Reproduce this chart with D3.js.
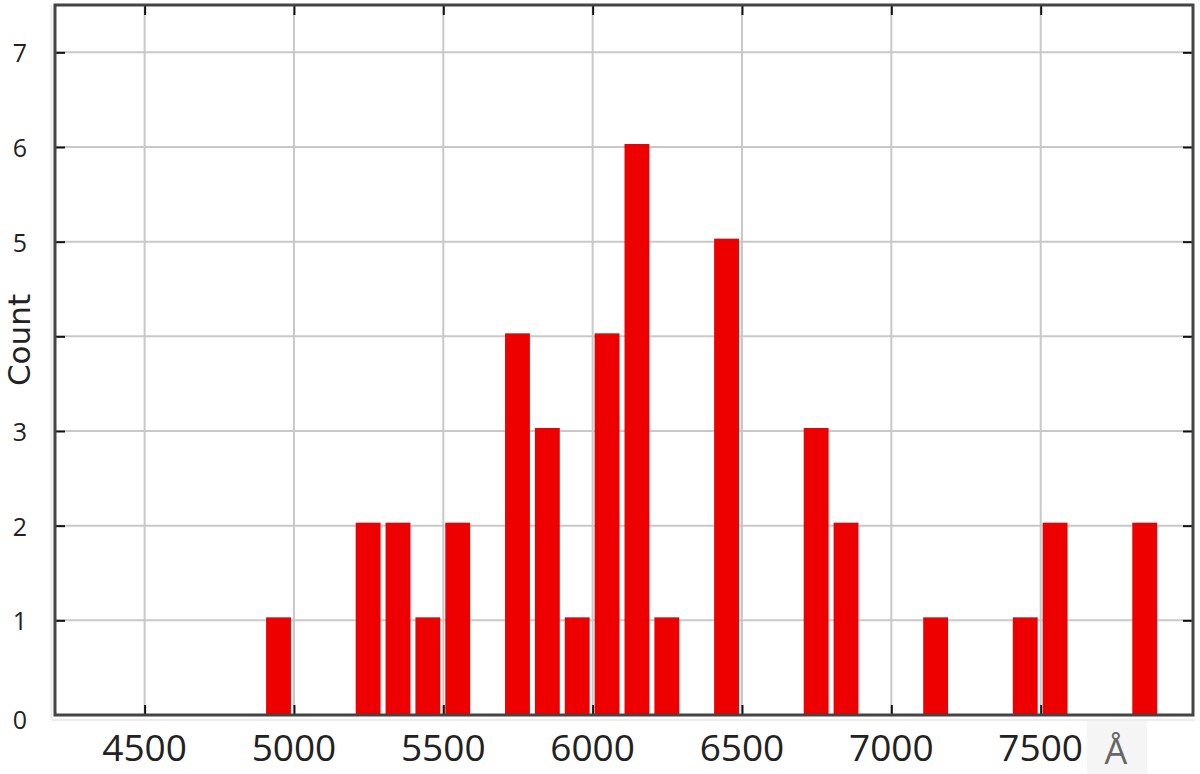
<!DOCTYPE html>
<html>
<head>
<meta charset="utf-8">
<script src="https://cdn.jsdelivr.net/npm/d3@7"></script>
<style>
  html, body { margin: 0; padding: 0; background: #fff; }
  svg { display: block; }
</style>
</head>
<body>
<svg id="chart" width="1200" height="774"></svg>
<script>
// Histogram bins (start wavelength in Å, bin width 100 Å) and counts
const binStarts = [4900, 5200, 5300, 5400, 5500, 5700, 5800, 5900, 6000, 6100, 6200, 6400, 6700, 6800, 7100, 7400, 7500, 7800];
const counts    = [1,    2,    2,    1,    2,    4,    3,    1,    4,    6,    1,    5,    3,    2,    1,    1,    2,    2];
const binWidth = 100;
const xTicks = [4500, 5000, 5500, 6000, 6500, 7000, 7500];
const yTicks = [0, 1, 2, 3, 4, 5, 6, 7];
const xUnit = "Å";
const yTitle = "Count";

const svg = d3.select("#chart");
const L = 55, R = 1193, T = 5, B = 715;

const x = d3.scaleLinear().domain([4200, 8010]).range([L, R]);
const y = d3.scaleLinear().domain([0, 7.5]).range([B, T]);

// faint outer shadow lines
svg.append("line").attr("x1", L - 3.5).attr("x2", L - 3.5).attr("y1", T).attr("y2", B + 5)
  .attr("stroke", "#ececec").attr("stroke-width", 2);
svg.append("line").attr("x1", L - 3.5).attr("x2", R + 2).attr("y1", B + 5).attr("y2", B + 5)
  .attr("stroke", "#ececec").attr("stroke-width", 2);

// gridlines
const grid = svg.append("g");
grid.selectAll("line.gx").data(xTicks).join("line")
  .attr("x1", d => x(d)).attr("x2", d => x(d)).attr("y1", T).attr("y2", B)
  .attr("stroke", "#c8c8c8").attr("stroke-width", 2);
grid.selectAll("line.gy").data(yTicks.filter(d => d > 0)).join("line")
  .attr("x1", L).attr("x2", R).attr("y1", d => y(d)).attr("y2", d => y(d))
  .attr("stroke", "#c8c8c8").attr("stroke-width", 2);

// bars
const data = binStarts.map((s, i) => ({ s, c: counts[i] }));
svg.append("g").selectAll("rect").data(data).join("rect")
  .attr("x", d => x(d.s) + 2)
  .attr("width", d => x(d.s + binWidth) - x(d.s) - 5)
  .attr("y", d => y(d.c) - 3)
  .attr("height", d => y(0) - y(d.c) + 3)
  .attr("fill", "#ee0000");

// axes with inward ticks (bottom/top/left/right)
const tickLen = 10;
const axisG = svg.append("g");
const xAxisB = d3.axisBottom(x).tickValues(xTicks).tickSize(-tickLen).tickFormat("");
const xAxisT = d3.axisTop(x).tickValues(xTicks).tickSize(-tickLen).tickFormat("");
const yAxisL = d3.axisLeft(y).tickValues(yTicks.filter(d => d > 0)).tickSize(-tickLen).tickFormat("");
const yAxisR = d3.axisRight(y).tickValues(yTicks.filter(d => d > 0)).tickSize(-tickLen).tickFormat("");
[[xAxisB, `translate(0,${B})`], [xAxisT, `translate(0,${T})`], [yAxisL, `translate(${L},0)`], [yAxisR, `translate(${R},0)`]]
  .forEach(([ax, tr]) => {
    const g = axisG.append("g").attr("transform", tr).call(ax);
    g.select(".domain").remove();
    g.selectAll(".tick line").attr("stroke", "#111").attr("stroke-width", 2);
  });

// frame
svg.append("rect").attr("x", L).attr("y", T).attr("width", R - L).attr("height", B - T)
  .attr("fill", "none").attr("stroke", "#444").attr("stroke-width", 3);

// y tick labels
svg.append("g").selectAll("text").data(yTicks).join("text")
  .attr("x", 20).attr("y", d => y(d) + (d === 0 ? 4 : 0))
  .attr("text-anchor", "middle").attr("dominant-baseline", "central")
  .attr("font-family", "'Open Sans', sans-serif").attr("font-size", 25)
  .attr("fill", "#222").text(d => d);

// x tick labels
svg.append("g").selectAll("text").data(xTicks).join("text")
  .attr("x", d => x(d)).attr("y", 761)
  .attr("text-anchor", "middle")
  .attr("font-family", "'Open Sans', sans-serif").attr("font-size", 37)
  .attr("fill", "#222").text(d => d);

// unit label with light box
svg.append("rect").attr("x", 1087).attr("y", 721).attr("width", 60).attr("height", 53).attr("fill", "#f5f5f5");
svg.append("text").attr("x", 1116).attr("y", 764).attr("text-anchor", "middle")
  .attr("font-family", "'Open Sans', sans-serif").attr("font-size", 36)
  .attr("fill", "#666").text(xUnit);

// y title (white backing hides the tick label behind it, as in the reference)
svg.append("rect").attr("x", 2).attr("y", 288).attr("width", 34).attr("height", 104).attr("fill", "#fff");
svg.append("text").attr("transform", "translate(30,340) rotate(-90)")
  .attr("text-anchor", "middle")
  .attr("font-family", "'DejaVu Sans', sans-serif").attr("font-size", 31)
  .attr("fill", "#222").text(yTitle);
</script>
</body>
</html>
